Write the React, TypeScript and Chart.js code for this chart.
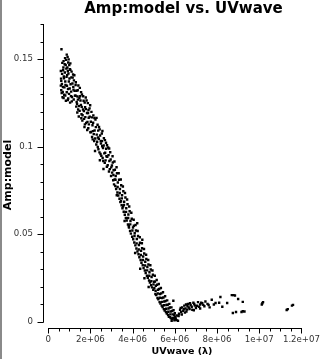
import React, { useEffect, useRef } from "react";
import { Chart, registerables } from "chart.js";

Chart.register(...registerables);

// UVwave in units of 1e6 lambda, Amp:model amplitude
const peakPoints: [number, number][] = [
  [0.63, 0.1556], [0.88, 0.1525], [0.92, 0.1512], [0.85, 0.1495], [0.95, 0.148], [0.78, 0.147],
  [1.0, 0.1465], [0.72, 0.1452], [0.86, 0.1445], [1.05, 0.1438], [0.6, 0.1432], [0.66, 0.1415],
  [0.9, 0.1408], [1.1, 0.1395], [0.75, 0.139], [0.62, 0.1375], [0.98, 0.1372], [1.15, 0.136],
  [0.82, 0.1352], [0.6, 0.1348], [0.7, 0.134], [1.02, 0.1332], [1.2, 0.1325], [0.88, 0.131],
  [0.64, 0.1305], [0.76, 0.1296], [1.08, 0.1288], [0.95, 0.1275], [0.84, 0.1262], [1.12, 0.1258],
  [0.68, 0.1282], [1.25, 0.1318], [1.3, 0.1352], [1.22, 0.1378], [1.18, 0.1412], [1.05, 0.1475],
  [0.97, 0.1498], [0.8, 0.1505], [0.61, 0.1388], [0.62, 0.1322], [0.93, 0.1432], [0.73, 0.1488],
  [0.67, 0.1478], [0.71, 0.1436], [0.74, 0.1401], [0.79, 0.1423], [0.81, 0.1372], [0.83, 0.1466],
  [0.87, 0.1398], [0.89, 0.1347], [0.91, 0.1452], [0.94, 0.1329], [0.96, 0.1417], [0.99, 0.1301],
  [1.01, 0.1389], [1.03, 0.1442], [1.06, 0.1356], [1.09, 0.1314], [1.11, 0.1428], [1.13, 0.1283],
  [1.16, 0.1394], [1.19, 0.1341], [1.21, 0.1269], [1.24, 0.1407], [1.27, 0.1291], [0.69, 0.1312],
  [0.77, 0.1338], [0.65, 0.1357], [0.73, 0.1277], [0.81, 0.1292], [0.93, 0.1266], [1.04, 0.1251],
];

const upperSlope: [number, number][] = [
  [1.3, 0.129], [1.35, 0.1255], [1.4, 0.1322], [1.42, 0.1212], [1.48, 0.1278], [1.5, 0.1335],
  [1.55, 0.1238], [1.58, 0.1185], [1.6, 0.1298], [1.65, 0.1212], [1.68, 0.1262], [1.7, 0.1158],
  [1.75, 0.1225], [1.78, 0.128], [1.8, 0.1135], [1.84, 0.1192], [1.88, 0.1248], [1.9, 0.1105],
  [1.92, 0.1165], [1.96, 0.1218], [2.0, 0.1082], [1.45, 0.1172], [1.62, 0.1148], [1.38, 0.1195],
  [1.72, 0.1112], [1.52, 0.1288], [1.85, 0.1095], [1.33, 0.1228],
  [1.31, 0.1367], [1.34, 0.1319], [1.37, 0.1243], [1.39, 0.1286], [1.43, 0.1349], [1.46, 0.1231],
  [1.49, 0.1204], [1.53, 0.1263], [1.56, 0.1311], [1.59, 0.1227], [1.63, 0.1179], [1.66, 0.1287],
  [1.69, 0.1203], [1.73, 0.1251], [1.76, 0.1168], [1.79, 0.1214], [1.82, 0.1263], [1.86, 0.1141],
  [1.89, 0.1192], [1.93, 0.1127], [1.97, 0.1171], [1.99, 0.1236], [1.41, 0.1268], [1.57, 0.1162],
  [1.74, 0.1127], [1.91, 0.1208],
];

const midSlope: [number, number][] = [
  [2.02, 0.1142], [2.05, 0.1198], [2.08, 0.1055], [2.1, 0.1122], [2.14, 0.1178], [2.18, 0.1032],
  [2.2, 0.1092], [2.24, 0.1155], [2.28, 0.1012], [2.3, 0.1068], [2.34, 0.1125], [2.38, 0.0985],
  [2.4, 0.1045], [2.44, 0.1098], [2.48, 0.0958], [2.5, 0.1018], [2.54, 0.1075], [2.58, 0.0935],
  [2.6, 0.0992], [2.64, 0.1048], [2.68, 0.0908], [2.7, 0.0965], [2.74, 0.1022], [2.78, 0.0885],
  [2.8, 0.0942], [2.84, 0.0995], [2.88, 0.0858], [2.9, 0.0918], [2.94, 0.0968], [2.98, 0.0832],
  [2.22, 0.0975], [2.45, 0.0922], [2.62, 0.0872], [2.36, 0.1052], [2.56, 0.1002], [2.76, 0.0945],
  [2.12, 0.1088],
  [2.03, 0.1083], [2.07, 0.1167], [2.11, 0.1041], [2.13, 0.1136], [2.16, 0.1071], [2.19, 0.1163],
  [2.23, 0.1046], [2.26, 0.1111], [2.29, 0.1164], [2.32, 0.1028], [2.35, 0.0998], [2.37, 0.1091],
  [2.41, 0.1112], [2.43, 0.0967], [2.46, 0.1063], [2.49, 0.1032], [2.52, 0.0947], [2.55, 0.1031],
  [2.57, 0.1089], [2.61, 0.0918], [2.63, 0.1006], [2.66, 0.0961], [2.69, 0.1037], [2.72, 0.0921],
  [2.75, 0.0988], [2.79, 0.1008], [2.82, 0.0893], [2.86, 0.0951], [2.89, 0.0989], [2.92, 0.0871],
  [2.96, 0.0926], [2.99, 0.0881],
  [3.02, 0.0892], [3.05, 0.0945], [3.08, 0.0808], [3.1, 0.0865], [3.14, 0.0915], [3.18, 0.0775],
  [3.2, 0.0832], [3.24, 0.0882], [3.28, 0.0738], [3.3, 0.0795], [3.34, 0.0848], [3.38, 0.0702],
  [3.4, 0.0758], [3.44, 0.0812], [3.48, 0.0665], [3.5, 0.0722], [3.54, 0.0772], [3.58, 0.0628],
  [3.6, 0.0685], [3.64, 0.0735], [3.68, 0.0592], [3.7, 0.0648], [3.74, 0.0698], [3.78, 0.0555],
  [3.8, 0.0612], [3.84, 0.0658], [3.88, 0.0518], [3.9, 0.0575], [3.94, 0.0622], [3.98, 0.0485],
  [3.25, 0.0722], [3.45, 0.0688], [3.62, 0.0575], [3.82, 0.0545], [3.15, 0.0812], [3.55, 0.0658],
  [3.03, 0.0851], [3.06, 0.0909], [3.09, 0.0838], [3.12, 0.0784], [3.16, 0.0868], [3.19, 0.0811],
  [3.22, 0.0758], [3.26, 0.0848], [3.29, 0.0769], [3.32, 0.0721], [3.36, 0.0811], [3.39, 0.0735],
  [3.42, 0.0683], [3.46, 0.0779], [3.49, 0.0704], [3.52, 0.0648], [3.56, 0.0745], [3.59, 0.0666],
  [3.63, 0.0611], [3.66, 0.0709], [3.69, 0.0627], [3.72, 0.0578], [3.76, 0.0671], [3.79, 0.0592],
  [3.83, 0.0538], [3.86, 0.0631], [3.89, 0.0556], [3.92, 0.0503], [3.96, 0.0588], [3.99, 0.0521],
];

const lowerSlope: [number, number][] = [
  [4.02, 0.0538], [4.05, 0.0582], [4.08, 0.0452], [4.1, 0.0505], [4.14, 0.0552], [4.18, 0.0418],
  [4.2, 0.0472], [4.24, 0.0518], [4.28, 0.0385], [4.3, 0.0438], [4.34, 0.0482], [4.38, 0.0352],
  [4.4, 0.0405], [4.44, 0.0448], [4.48, 0.0322], [4.5, 0.0372], [4.54, 0.0415], [4.58, 0.0292],
  [4.6, 0.0342], [4.64, 0.0382], [4.68, 0.0262], [4.7, 0.0312], [4.74, 0.0352], [4.78, 0.0235],
  [4.8, 0.0282], [4.84, 0.0322], [4.88, 0.0208], [4.9, 0.0255], [4.94, 0.0292], [4.98, 0.0182],
  [4.12, 0.0392], [4.36, 0.0302], [4.56, 0.0248], [4.76, 0.0198], [4.22, 0.0562], [4.46, 0.0468],
  [4.03, 0.0471], [4.06, 0.0548], [4.09, 0.0489], [4.13, 0.0436], [4.16, 0.0521], [4.19, 0.0447],
  [4.23, 0.0401], [4.26, 0.0489], [4.29, 0.0412], [4.32, 0.0368], [4.35, 0.0451], [4.39, 0.0381],
  [4.42, 0.0337], [4.45, 0.0419], [4.49, 0.0352], [4.52, 0.0306], [4.55, 0.0389], [4.59, 0.0321],
  [4.62, 0.0278], [4.65, 0.0358], [4.69, 0.0293], [4.72, 0.0251], [4.75, 0.0327], [4.79, 0.0262],
  [4.82, 0.0224], [4.86, 0.0298], [4.89, 0.0231], [4.92, 0.0196], [4.96, 0.0268], [4.99, 0.0213],
];

const troughPoints: [number, number][] = [
  [5.02, 0.0228], [5.05, 0.0262], [5.08, 0.0158], [5.1, 0.0205], [5.14, 0.0238], [5.18, 0.0135],
  [5.2, 0.0182], [5.24, 0.0215], [5.28, 0.0112], [5.3, 0.0158], [5.34, 0.0192], [5.38, 0.0092],
  [5.4, 0.0135], [5.44, 0.0168], [5.48, 0.0072], [5.5, 0.0115], [5.54, 0.0145], [5.58, 0.0055],
  [5.6, 0.0095], [5.64, 0.0122], [5.68, 0.0038], [5.7, 0.0075], [5.74, 0.0102], [5.78, 0.0025],
  [5.8, 0.0058], [5.84, 0.0082], [5.88, 0.0015], [5.9, 0.0042], [5.94, 0.0065], [5.98, 0.0008],
  [6.02, 0.0028], [6.05, 0.0012], [6.1, 0.0035], [6.15, 0.0005], [5.95, 0.0022], [5.85, 0.0005],
  [6.0, 0.0048],
  [5.03, 0.0191], [5.06, 0.0229], [5.09, 0.0176], [5.12, 0.0152], [5.16, 0.0211], [5.19, 0.0161],
  [5.22, 0.0128], [5.26, 0.0187], [5.29, 0.0137], [5.32, 0.0104], [5.36, 0.0162], [5.39, 0.0113],
  [5.42, 0.0083], [5.46, 0.0138], [5.49, 0.0094], [5.52, 0.0063], [5.56, 0.0118], [5.59, 0.0074],
  [5.62, 0.0046], [5.66, 0.0097], [5.69, 0.0057], [5.72, 0.0028], [5.76, 0.0081], [5.79, 0.0042],
  [5.82, 0.0019], [5.87, 0.0061], [5.91, 0.0021], [5.97, 0.0038], [6.04, 0.0019], [6.08, 0.0009],
];

const tailPoints: [number, number][] = [
  [6.2, 0.0045], [6.25, 0.0068], [6.3, 0.0055], [6.35, 0.0082], [6.4, 0.0062], [6.45, 0.0092],
  [6.5, 0.0075], [6.55, 0.0058], [6.6, 0.0088], [6.62, 0.0102], [6.7, 0.0072], [6.75, 0.0095],
  [6.8, 0.0085], [6.88, 0.0108], [6.95, 0.0092], [7.0, 0.0078], [7.1, 0.0112], [7.2, 0.0098],
  [7.3, 0.0105], [7.4, 0.0088], [7.45, 0.0115], [7.55, 0.0102], [7.65, 0.0082], [7.75, 0.0125],
  [7.85, 0.0098], [7.93, 0.0107], [8.16, 0.0141], [8.25, 0.0085], [8.48, 0.0107], [8.7, 0.0152],
  [8.78, 0.0152], [8.85, 0.015], [9.0, 0.013], [9.22, 0.0113], [8.75, 0.005], [8.9, 0.0055],
  [9.16, 0.0055], [9.22, 0.006], [9.3, 0.0058], [5.93, 0.012], [10.15, 0.0105], [10.18, 0.0112],
  [10.12, 0.0098], [11.3, 0.0067], [11.35, 0.0072], [11.6, 0.0096], [11.55, 0.0092], [7.2, 0.0075],
  [7.6, 0.0095], [6.9, 0.0065], [8.1, 0.0108],
  [6.18, 0.0032], [6.28, 0.0079], [6.33, 0.0041], [6.42, 0.0071], [6.48, 0.0052], [6.53, 0.0098],
  [6.58, 0.0069], [6.66, 0.0081], [6.72, 0.0105], [6.83, 0.0068], [6.92, 0.0101], [7.05, 0.0091],
  [7.15, 0.0085], [7.25, 0.0108], [7.35, 0.0096],
];

const xTicks = [0, 2e6, 4e6, 6e6, 8e6, 1e7, 1.2e7];
const xTickLabels = ["0", "2e+06", "4e+06", "6e+06", "8e+06", "1e+07", "1.2e+07"];
const xMinorStep = 5e5;
const yTicks = [0, 0.05, 0.1, 0.15];
const yTickLabels = ["0", "0.05", "0.1", "0.15"];
const yMinorStep = 0.01;

const TITLE = "Amp:model vs. UVwave";
const X_TITLE = "UVwave (λ)";
const Y_TITLE = "Amp:model";
const FONT = "'DejaVu Sans', sans-serif";

const decorPlugin = {
  id: "decor",
  afterDraw(chart: any) {
    const { ctx, chartArea } = chart;
    const xs = chart.scales.x;
    const ys = chart.scales.y;
    ctx.save();
    ctx.fillStyle = "#8a8a8a";
    ctx.fillRect(0, 0, 2, chart.height);

    ctx.strokeStyle = "#000";
    ctx.lineWidth = 1;
    const sx = Math.round(chartArea.left) + 0.5;
    const yZero = ys.getPixelForValue(yTicks[0]);
    ctx.beginPath();
    ctx.moveTo(sx, Math.round(yZero) + 0.5);
    ctx.lineTo(sx, chartArea.top);
    ctx.stroke();
    const yMax = ys.max;
    for (let i = 0; ; i++) {
      const v = yTicks[0] + i * yMinorStep;
      if (v > yMax + 1e-9) break;
      const major = yTicks.some((t) => Math.abs(t - v) < 1e-9);
      const py = Math.round(ys.getPixelForValue(v)) + 0.5;
      ctx.beginPath();
      ctx.moveTo(sx, py);
      ctx.lineTo(sx - (major ? 6 : 3), py);
      ctx.stroke();
    }
    const sy = Math.round(chartArea.bottom) + 0.5;
    const xStart = xs.getPixelForValue(xTicks[0]);
    const xEnd = xs.getPixelForValue(xTicks[xTicks.length - 1]);
    ctx.beginPath();
    ctx.moveTo(Math.round(xStart), sy);
    ctx.lineTo(Math.round(xEnd) + 1, sy);
    ctx.stroke();
    for (let i = 0; ; i++) {
      const v = xTicks[0] + i * xMinorStep;
      if (v > xTicks[xTicks.length - 1] + 1) break;
      const major = xTicks.some((t) => Math.abs(t - v) < 1);
      const px = Math.round(xs.getPixelForValue(v)) + 0.5;
      ctx.beginPath();
      ctx.moveTo(px, sy);
      ctx.lineTo(px, sy + (major ? 5 : 3));
      ctx.stroke();
    }

    ctx.fillStyle = "#000";
    ctx.textAlign = "center";
    ctx.textBaseline = "middle";
    ctx.font = `bold 15px ${FONT}`;
    ctx.fillText(TITLE, 183.5, 9);
    ctx.font = `bold 9.5px ${FONT}`;
    ctx.fillText(X_TITLE, 182, 352);
    ctx.font = `bold 11px ${FONT}`;
    ctx.translate(8, 175);
    ctx.rotate(-Math.PI / 2);
    ctx.fillText(Y_TITLE, 0, 0);
    ctx.restore();
  },
};

export default function App() {
  const ref = useRef<HTMLCanvasElement | null>(null);
  useEffect(() => {
    if (!ref.current) return;
    const all = [...peakPoints, ...upperSlope, ...midSlope, ...lowerSlope, ...troughPoints, ...tailPoints];
    const data = all.map(([u, a]) => ({ x: u * 1e6, y: a }));
    const chart = new Chart(ref.current, {
      type: "scatter",
      data: {
        datasets: [
          {
            label: Y_TITLE,
            data,
            backgroundColor: "#000",
            borderColor: "#000",
            borderWidth: 0,
            pointStyle: "rect",
            pointRadius: 1.7,
          },
        ],
      },
      options: {
        responsive: false,
        animation: false,
        layout: { padding: { top: 24, right: 18.7, left: 0, bottom: 0 } },
        plugins: { legend: { display: false }, tooltip: { enabled: false }, title: { display: false } },
        scales: {
          x: {
            type: "linear",
            min: -0.245e6,
            max: 1.2e7,
            afterBuildTicks: (s: any) => {
              s.ticks = xTicks.map((v) => ({ value: v }));
            },
            afterFit: (s: any) => {
              s.height = 31;
            },
            ticks: {
              callback: (_v: any, i: number) => xTickLabels[i],
              font: { family: FONT, size: 8.6 },
              color: "#333",
              padding: 7,
              maxRotation: 0,
              autoSkip: false,
            },
            grid: { display: false, drawTicks: false },
            border: { display: false },
          },
          y: {
            type: "linear",
            min: -0.0036,
            max: 0.17,
            afterBuildTicks: (s: any) => {
              s.ticks = yTicks.map((v) => ({ value: v }));
            },
            afterFit: (s: any) => {
              s.width = 43;
            },
            ticks: {
              callback: (_v: any, i: number) => yTickLabels[i],
              font: { family: FONT, size: 8.6 },
              color: "#333",
              padding: 10,
              autoSkip: false,
            },
            grid: { display: false, drawTicks: false },
            border: { display: false },
          },
        },
      },
      plugins: [decorPlugin],
    });
    return () => chart.destroy();
  }, []);
  return (
    <div style={{ position: "absolute", left: 0, top: 0, width: 327, height: 359, background: "#fff" }}>
      <canvas ref={ref} width={327} height={359} style={{ display: "block" }} />
    </div>
  );
}
